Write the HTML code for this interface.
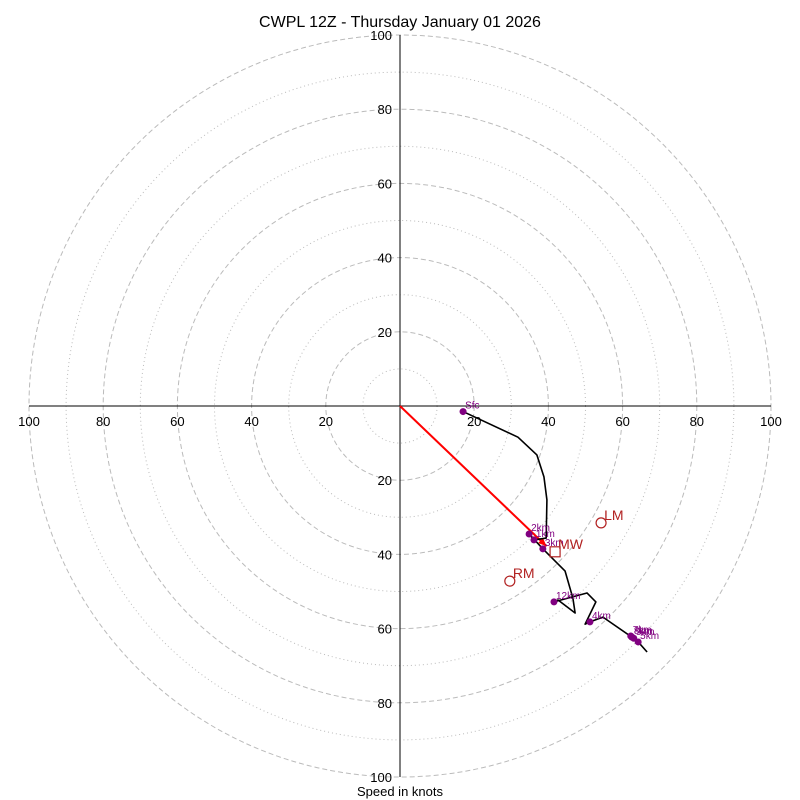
<!DOCTYPE html>
<html><head><meta charset="utf-8"><style>
body{margin:0;background:#fff}
svg{display:block;font-family:"Liberation Sans","DejaVu Sans",sans-serif}
</style></head><body>
<svg id="c" width="800" height="800">
<text x="400" y="27" text-anchor="middle" font-size="16">CWPL 12Z - Thursday January 01 2026</text>
<text x="400" y="796" text-anchor="middle" font-size="13">Speed in knots</text>
</svg>
<script>
const ringValues=[10,20,30,40,50,60,70,80,90,100];
const tickLabels=[20,40,60,80,100];
const pathU=[17.0,31.8,36.9,38.8,39.6,39.4,36.1,34.8,38.5,44.5,46.6,47.2,42.6,41.5,50.4,52.8,49.9,51.2,54.7,62.5,64.2,66.6];
const pathV=[-1.5,-8.4,-13.2,-19.1,-25.3,-35.6,-36.1,-34.5,-38.5,-44.5,-51.8,-55.8,-52.3,-52.8,-50.4,-52.8,-58.8,-58.2,-56.9,-62.3,-63.6,-66.3];
const markerLabels=["Sfc","1km","2km","3km","4km","12km","7km","8km","9km","5km"];
const markerU=[17.0,36.1,34.8,38.5,51.2,41.5,62.2,62.5,63.0,64.2];
const markerV=[-1.5,-36.1,-34.5,-38.5,-58.2,-52.8,-62.0,-62.3,-62.6,-63.6];
const stormLabels=["RM","LM"];
const stormU=[29.6,54.2];
const stormV=[-47.2,-31.5];
const mwU=41.8, mwV=-39.3;
const shearU=39.5, shearV=-37.8;

const cx=400, cy=406, k=3.71;
const X=u=>cx+u*k, Y=v=>cy-v*k;
const NS="http://www.w3.org/2000/svg";
const svg=document.getElementById('c');
function mk(t,a){const e=document.createElementNS(NS,t);for(const n in a)e.setAttribute(n,a[n]);svg.appendChild(e);return e;}
ringValues.forEach(r=>{
  const e=mk('circle',{cx:cx,cy:cy,r:r*k,fill:'none',stroke:'#bbb','stroke-width':1,'stroke-dasharray':r%20===0?'5,3':'1,3'});
  
  
});
let a=mk('line',{x1:X(-100),y1:cy,x2:X(100),y2:cy,stroke:'#000','stroke-width':1});


a=mk('line',{x1:cx,y1:Y(100),x2:cx,y2:Y(-100),stroke:'#000','stroke-width':1});


tickLabels.forEach(t=>{
  [t,-t].forEach(s=>{
    let e=mk('text',{x:X(s),y:cy+20,'text-anchor':'middle','font-size':13});
    e.textContent=t;
    
    
    e=mk('text',{x:cx-8,y:Y(s)+5,'text-anchor':'end','font-size':13});
    e.textContent=t;
    
    
  });
});
// shear vector
let sv=mk('line',{x1:X(0),y1:Y(0),x2:X(shearU),y2:Y(shearV),stroke:'red','stroke-width':2});


let ang=Math.atan2(Y(shearV)-Y(0),X(shearU)-X(0));
let hx=X(shearU),hy=Y(shearV);
let ah=mk('polygon',{points:`${hx},${hy} ${hx-9*Math.cos(ang-0.4)},${hy-9*Math.sin(ang-0.4)} ${hx-9*Math.cos(ang+0.4)},${hy-9*Math.sin(ang+0.4)}`,fill:'red'});


// hodograph line
let pl=mk('polyline',{points:pathU.map((u,i)=>X(u)+','+Y(pathV[i])).join(' '),fill:'none',stroke:'#000','stroke-width':1.6,'stroke-linejoin':'round'});


markerLabels.forEach((l,i)=>{
  const m=mk('circle',{cx:X(markerU[i]),cy:Y(markerV[i]),r:3.5,fill:'purple'});
  
  
  const t=mk('text',{x:X(markerU[i])+2,y:Y(markerV[i])-3,'font-size':10,fill:'purple'});
  t.textContent=l;
  
  
});
stormLabels.forEach((l,i)=>{
  const m=mk('circle',{cx:X(stormU[i]),cy:Y(stormV[i]),r:5,fill:'none',stroke:'#b22222','stroke-width':1.2});
  
  
  const t=mk('text',{x:X(stormU[i])+3,y:Y(stormV[i])-3,'font-size':14,fill:'#b22222'});
  t.textContent=l;
  
  
});
let sq=mk('rect',{x:X(mwU)-5,y:Y(mwV)-5,width:10,height:10,fill:'none',stroke:'#b22222','stroke-width':1.2});


let mt=mk('text',{x:X(mwU)+3,y:Y(mwV)-3,'font-size':14,fill:'#b22222'});
mt.textContent='MW';


</script>
</body></html>
